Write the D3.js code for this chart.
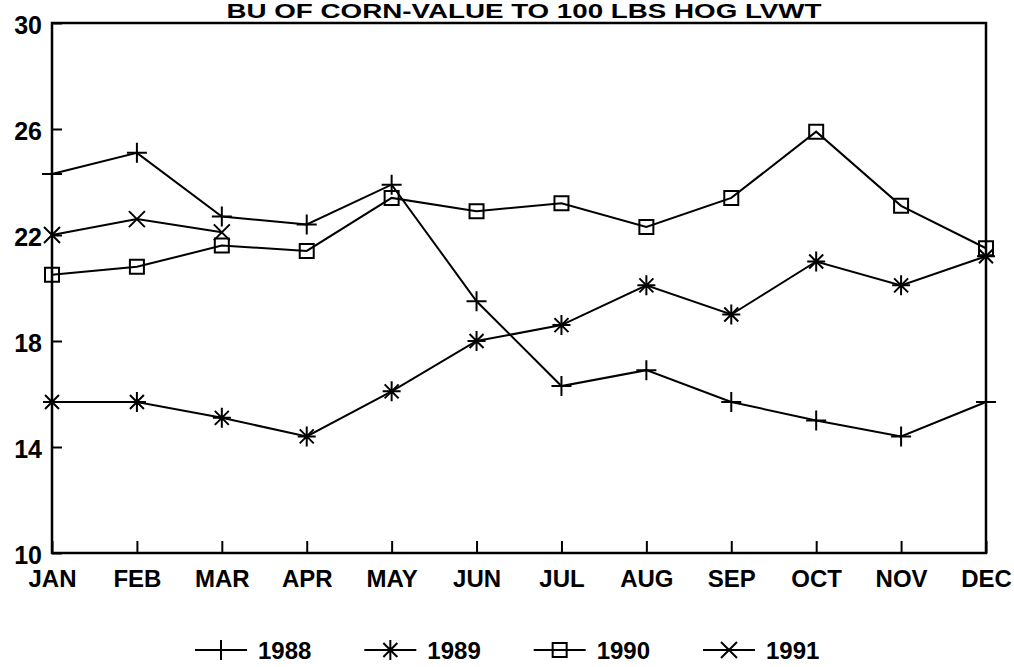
<!DOCTYPE html>
<html>
<head>
<meta charset="utf-8">
<script src="https://cdn.jsdelivr.net/npm/d3@7"></script>
<style>
  html, body { margin: 0; padding: 0; background: #fff; }
  svg text { font-family: "Liberation Sans", Arial, sans-serif; font-weight: bold; fill: #000; }
</style>
</head>
<body>
<div id="chart"></div>
<script>
const months = ["JAN", "FEB", "MAR", "APR", "MAY", "JUN", "JUL", "AUG", "SEP", "OCT", "NOV", "DEC"];
const yTicks = [10, 14, 18, 22, 26, 30];
const years = ["1988", "1989", "1990", "1991"];
const s1988 = [24.3, 25.1, 22.7, 22.4, 23.9, 19.5, 16.3, 16.9, 15.7, 15.0, 14.4, 15.7];
const s1989 = [15.7, 15.7, 15.1, 14.4, 16.1, 18.0, 18.6, 20.1, 19.0, 21.0, 20.1, 21.2];
const s1990 = [20.5, 20.8, 21.6, 21.4, 23.4, 22.9, 23.2, 22.3, 23.4, 25.9, 23.1, 21.5];
const s1991 = [22.0, 22.6, 22.1];
const title = "BU OF CORN-VALUE TO 100 LBS HOG LVWT";

const width = 1014, height = 667;
const plot = { left: 52, right: 986, top: 23, bottom: 553 };

const svg = d3.select("#chart").append("svg")
    .attr("width", width)
    .attr("height", height);

const x = d3.scalePoint().domain(months).range([plot.left, plot.right]).padding(0);
const y = d3.scaleLinear().domain([10, 30]).range([plot.bottom, plot.top]);

// marker shapes, drawn around 0,0
const markers = {
    "1988": "M-10,0H10M0,-10V10",
    "1989": "M-9,0H9M0,-10V10M-7,-7L7,7M-7,7L7,-7",
    "1990": "M-7,-7H7V7H-7Z",
    "1991": "M-8,-8L8,8M-8,8L8,-8"
};

const series = [
    { name: "1988", values: s1988 },
    { name: "1989", values: s1989 },
    { name: "1990", values: s1990 },
    { name: "1991", values: s1991 }
];

// title above the frame
svg.append("text")
    .attr("x", 524)
    .attr("y", 18)
    .attr("text-anchor", "middle")
    .attr("font-size", 21)
    .attr("textLength", 595)
    .attr("lengthAdjust", "spacingAndGlyphs")
    .text(title);

// axes with inward ticks
const yAxis = svg.append("g")
    .attr("transform", `translate(${plot.left},0)`)
    .call(d3.axisLeft(y).tickValues(yTicks).tickSize(-10).tickPadding(10).tickFormat(d3.format("d")));
yAxis.select(".domain").remove();
yAxis.selectAll("line").attr("stroke", "#000").attr("stroke-width", 2);
yAxis.selectAll("text").attr("font-size", 25).attr("dy", "0.4em");

const xAxis = svg.append("g")
    .attr("transform", `translate(0,${plot.bottom})`)
    .call(d3.axisBottom(x).tickSize(-12).tickPadding(17));
xAxis.select(".domain").remove();
xAxis.selectAll("line").attr("stroke", "#000").attr("stroke-width", 2);
xAxis.selectAll("text").attr("font-size", 24);

// frame
svg.append("rect")
    .attr("x", plot.left)
    .attr("y", plot.top)
    .attr("width", plot.right - plot.left)
    .attr("height", plot.bottom - plot.top)
    .attr("fill", "none")
    .attr("stroke", "#000")
    .attr("stroke-width", 2.5);

const line = d3.line()
    .x((d, i) => x(months[i]))
    .y(d => y(d));

series.forEach(s => {
    svg.append("path")
        .datum(s.values)
        .attr("d", line)
        .attr("fill", "none")
        .attr("stroke", "#000")
        .attr("stroke-width", 2);

    svg.append("g").selectAll("path")
        .data(s.values)
        .join("path")
        .attr("transform", (d, i) => `translate(${x(months[i])},${y(d)})`)
        .attr("d", markers[s.name])
        .attr("fill", "none")
        .attr("stroke", "#000")
        .attr("stroke-width", 2);
});

// legend
const legendX = d3.scalePoint().domain(years).range([195, 703]);
const legendY = 650;
const legend = svg.append("g").selectAll("g")
    .data(years)
    .join("g")
    .attr("transform", d => `translate(${legendX(d)},${legendY})`);

legend.append("line")
    .attr("x1", 0).attr("x2", 52)
    .attr("stroke", "#000")
    .attr("stroke-width", 2);
legend.append("path")
    .attr("transform", "translate(26,0)")
    .attr("d", d => markers[d])
    .attr("fill", "none")
    .attr("stroke", "#000")
    .attr("stroke-width", 2);
legend.append("text")
    .attr("x", 63)
    .attr("y", 9)
    .attr("font-size", 24)
    .text(d => d);
</script>
</body>
</html>
